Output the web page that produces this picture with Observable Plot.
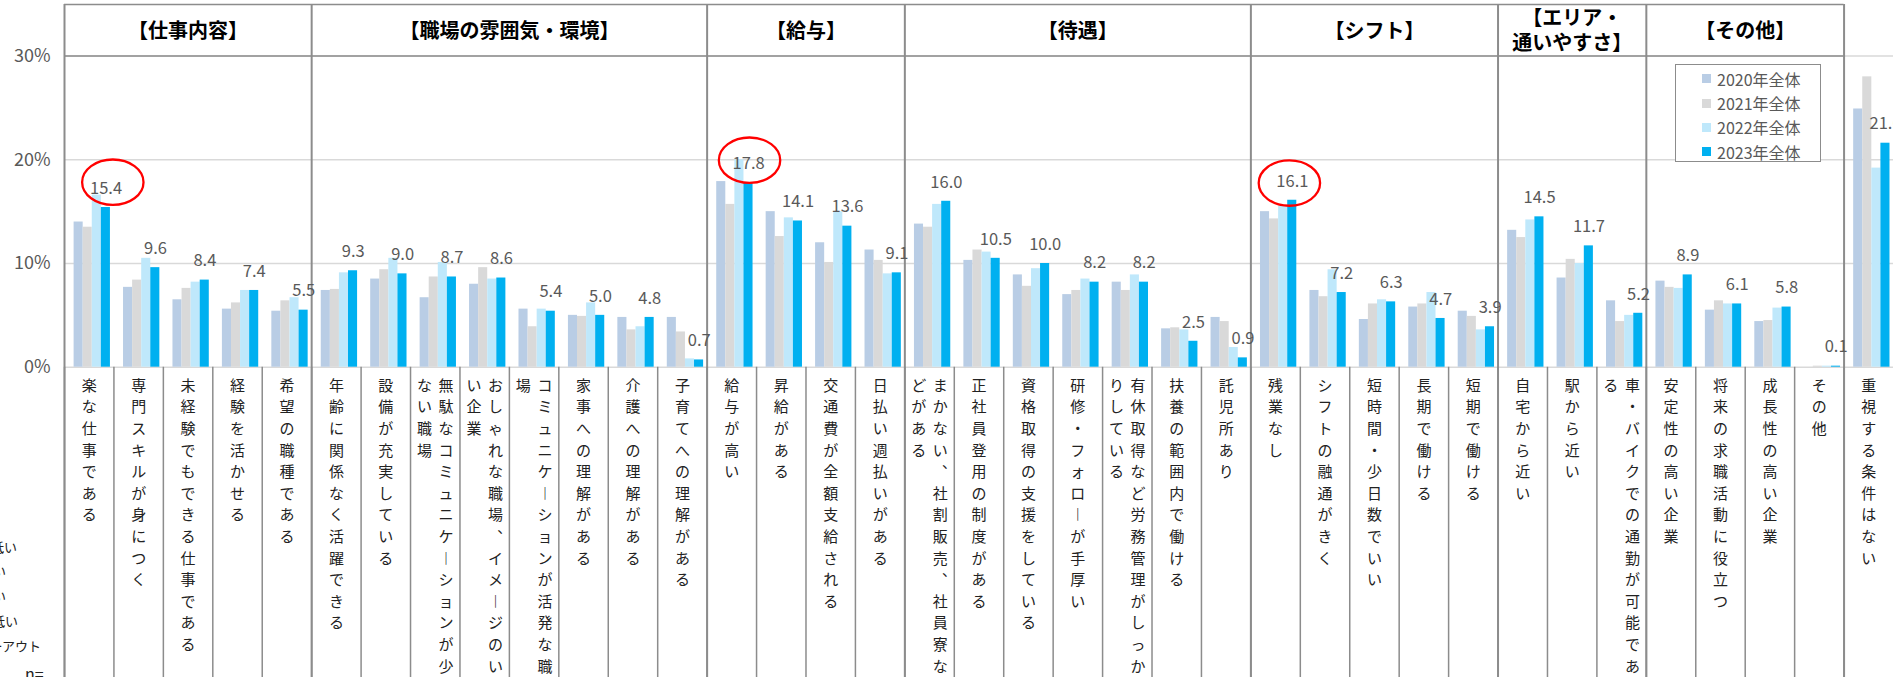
<!DOCTYPE html>
<html><head><meta charset="utf-8">
<script src="https://cdn.jsdelivr.net/npm/d3@7"></script>
<script src="https://cdn.jsdelivr.net/npm/@observablehq/plot@0.6"></script>
<style>
html,body{margin:0;padding:0;background:#fff;}
#wrap{position:relative;width:1893px;height:677px;overflow:hidden;font-family:'Noto Sans CJK JP','Noto Sans',sans-serif;}
#legend{position:absolute;left:1675px;top:64px;width:146px;height:98px;border:1.5px solid #8c8c8c;background:#fff;box-sizing:border-box;}
.li{position:absolute;left:26px;height:22px;display:flex;align-items:center;font-size:16px;color:#595959;white-space:nowrap;}
.sw{width:9px;height:9px;margin-right:6px;flex:none;}
.frag{position:absolute;white-space:nowrap;font-size:13px;color:#222;line-height:1;}
</style></head><body><div id="wrap"></div>
<script>
const categories = [
  "楽な仕事である","専門スキルが身につく","未経験でもできる仕事である","経験を活かせる","希望の職種である",
  "年齢に関係なく活躍できる","設備が充実している","無駄なコミュニケーションが少ない職場","おしゃれな職場、イメージのいい企業","コミュニケーションが活発な職場","家事への理解がある","介護への理解がある","子育てへの理解がある",
  "給与が高い","昇給がある","交通費が全額支給される","日払い週払いがある",
  "まかない、社割販売、社員寮などがある","正社員登用の制度がある","資格取得の支援をしている","研修・フォローが手厚い","有休取得など労務管理がしっかりしている","扶養の範囲内で働ける","託児所あり",
  "残業なし","シフトの融通がきく","短時間・少日数でいい","長期で働ける","短期で働ける",
  "自宅から近い","駅から近い","車・バイクでの通勤が可能である",
  "安定性の高い企業","将来の求職活動に役立つ","成長性の高い企業","その他",
  "重視する条件はない"
];
const groups = ["【仕事内容】","【職場の雰囲気・環境】","【給与】","【待遇】","【シフト】","【エリア・\n通いやすさ】","【その他】"];
const groupSizes = [5, 8, 4, 7, 5, 3, 4];
const years = ["2020年全体","2021年全体","2022年全体","2023年全体"];
const colors = ["#B9CDE5","#D9D9D9","#BFE8FB","#00B0F0"];
const v2020 = [14.0,7.7,6.5,5.6,5.4, 7.4,8.5,6.7,8.0,5.6,5.0,4.8,4.8, 17.9,15.0,12.0,11.3, 13.8,10.3,8.9,7.0,8.2,3.7,4.8, 15.0,7.4,4.6,5.8,5.4, 13.2,8.6,6.4, 8.3,5.5,4.4,0.0, 24.9];
const v2021 = [13.5,8.4,7.6,6.2,6.4, 7.5,9.4,8.7,9.6,3.9,4.9,3.6,3.4, 15.7,12.6,10.1,10.3, 13.5,11.3,7.8,7.4,7.4,3.8,4.4, 14.3,6.8,6.1,6.1,4.9, 12.5,10.4,4.4, 7.7,6.4,4.5,0.1, 28.0];
const v2022 = [16.6,10.5,8.2,7.4,6.7, 9.1,10.5,10.1,8.5,5.6,6.2,3.9,0.8, 20.0,14.4,15.0,9.0, 15.7,11.1,9.5,8.5,8.9,3.6,1.9, 15.5,9.4,6.5,7.2,3.6, 14.2,10.0,5.0, 7.6,6.1,5.7,0.1, 19.2];
const v2023 = [15.4,9.6,8.4,7.4,5.5, 9.3,9.0,8.7,8.6,5.4,5.0,4.8,0.7, 17.8,14.1,13.6,9.1, 16.0,10.5,10.0,8.2,8.2,2.5,0.9, 16.1,7.2,6.3,4.7,3.9, 14.5,11.7,5.2, 8.9,6.1,5.8,0.1, 21.6];
const highlighted = ["楽な仕事である","給与が高い","残業なし"];
const yTicks = [0, 10, 20, 30];
const sideNotes = ["低い","い","い","低い","ーアウト","n="];

// ---- layout ----
const W = 1893, H = 677, mL = 64, mR = 0, mT = 55.6, mB = 310.3, topY = 4;
const bw = (W - mL - mR) / categories.length;
const plotH = H - mT - mB;
const series = [v2020, v2021, v2022, v2023];
const data = categories.flatMap((c, i) => years.map((yr, k) => ({cat: c, year: yr, value: series[k][i]})));
const barOff = 9.6, barW = 9.08;

// group info
let start = 0;
const groupInfo = groups.map((g, j) => { const o = {name: g, i0: start, n: groupSizes[j]}; start += groupSizes[j]; return o; });
const groupStarts = [...groupInfo.map(g => categories[g.i0]), categories[start]];
const oddHeads = groupInfo.filter(g => g.n % 2 === 1).map(g => ({cat: categories[g.i0 + (g.n - 1) / 2], name: g.name}));
const evenHeads = groupInfo.filter(g => g.n % 2 === 0).map(g => ({cat: categories[g.i0 + g.n / 2 - 1], name: g.name}));

// vertical labels (max 14 chars per column)
const vert = s => Array.from(s).map(ch => ch === "ー" ? "︱" : ch === "、" ? "︑" : ch).join("\n");
const labCols = categories.map(c => { const a = Array.from(c); return {cat: c, c1: a.slice(0, 14).join(""), c2: a.slice(14).join("")}; });
const singles = labCols.filter(d => !d.c2);
const doubles = labCols.filter(d => d.c2);

const ellipse = (rx, ry) => ({draw(ctx) {
  const k = 0.5523;
  ctx.moveTo(rx, 0);
  ctx.bezierCurveTo(rx, ry * k, rx * k, ry, 0, ry);
  ctx.bezierCurveTo(-rx * k, ry, -rx, ry * k, -rx, 0);
  ctx.bezierCurveTo(-rx, -ry * k, -rx * k, -ry, 0, -ry);
  ctx.bezierCurveTo(rx * k, -ry, rx, -ry * k, rx, 0);
  ctx.closePath();
}});
const hl = highlighted.map(c => data.find(d => d.cat === c && d.year === years[3]));
const ellOffsets = [[23.6, -25.3], [17.7, -22.4], [13.8, -17.2]];

const gridC = "#d9d9d9", darkC = "#8c8c8c";
const labelFont = 15;
const headFont = 20;

const chart = Plot.plot({
  width: W, height: H,
  marginLeft: mL, marginRight: mR, marginTop: mT, marginBottom: mB,
  style: {background: "white", fontFamily: "'Noto Sans CJK JP','Noto Sans',sans-serif", overflow: "hidden"},
  x: {type: "band", domain: categories, padding: 0, round: false, axis: null},
  y: {domain: [0, 30], axis: null},
  marks: [
    Plot.ruleY([10, 20, 30], {stroke: gridC, strokeWidth: 1.5}),
    Plot.ruleY([0], {stroke: gridC, strokeWidth: 1.5}),
    ...years.map((yr, k) => Plot.barY(data.filter(d => d.year === yr), {
      x: "cat", y: "value", fill: colors[k],
      insetLeft: barOff + k * barW, insetRight: bw - barOff - (k + 1) * barW
    })),
    // header box lines
    Plot.ruleY([30], {stroke: darkC, strokeWidth: 1.5, insetRight: bw}),
    Plot.ruleY([30], {stroke: darkC, strokeWidth: 1.5, insetRight: bw, dy: -(mT - topY)}),
    // category separators below the axis
    Plot.ruleX(categories, {x: d => d, dx: -bw / 2, insetTop: plotH, insetBottom: -mB, stroke: darkC, strokeWidth: 1.5}),
    // group separators (full height)
    Plot.ruleX(groupStarts, {x: d => d, dx: -bw / 2, insetTop: -(mT - topY), insetBottom: -mB, stroke: darkC, strokeWidth: 2}),
    // y tick labels
    Plot.text(yTicks, {y: d => d, text: d => `${d}%`, frameAnchor: "left", textAnchor: "end", dx: -14, fontSize: 18, fill: "#595959"}),
    // group headers
    Plot.text(oddHeads, {x: "cat", text: "name", frameAnchor: "top", lineAnchor: "middle", dy: -26.6, fontSize: headFont, fontWeight: "bold", fill: "#000", lineHeight: 1.25}),
    Plot.text(evenHeads, {x: "cat", text: "name", frameAnchor: "top", lineAnchor: "middle", dy: -26.6, dx: bw / 2, fontSize: headFont, fontWeight: "bold", fill: "#000", lineHeight: 1.25}),
    // value labels (2023)
    Plot.text(data.filter(d => d.year === years[3]), {x: "cat", y: "value", text: d => d.value.toFixed(1), dx: 16.8, dy: -19, fontSize: 16.5, fill: "#595959"}),
    // category labels, vertical
    Plot.text(singles, {x: "cat", text: d => vert(d.c1), frameAnchor: "bottom", lineAnchor: "top", dy: 8.3, lineHeight: 1.44, fontSize: labelFont, fill: "#222"}),
    Plot.text(doubles, {x: "cat", text: d => vert(d.c1), frameAnchor: "bottom", lineAnchor: "top", dy: 8.3, dx: 10.8, lineHeight: 1.44, fontSize: labelFont, fill: "#222"}),
    Plot.text(doubles, {x: "cat", text: d => vert(d.c2), frameAnchor: "bottom", lineAnchor: "top", dy: 8.3, dx: -10.8, lineHeight: 1.44, fontSize: labelFont, fill: "#222"}),
    // highlight ellipses
    ...hl.map((d, j) => Plot.dot([d], {x: "cat", y: "value", r: 10, symbol: ellipse(30.7, 22.7), dx: ellOffsets[j][0], dy: ellOffsets[j][1], fill: "none", stroke: "#FF0000", strokeWidth: 2.3}))
  ]
});
const wrap = document.getElementById("wrap");
wrap.appendChild(chart);

// legend
const lg = document.createElement("div");
lg.id = "legend";
years.forEach((yr, k) => {
  const it = document.createElement("div");
  it.className = "li";
  it.style.top = (2.7 + k * 24.3) + "px";
  it.innerHTML = `<span class="sw" style="background:${colors[k]}"></span><span>${yr}</span>`;
  lg.appendChild(it);
});
wrap.appendChild(lg);

// cropped side notes at the left edge (partly outside the picture, as in the reference)
const noteRight = [17, 6, 6, 18, 41, null];
const noteY = [546.7, 570, 595, 620, 645, 673];
sideNotes.forEach((t, j) => {
  const s = document.createElement("div");
  s.className = "frag";
  s.textContent = t;
  if (noteRight[j] == null) { s.style.left = "25px"; s.style.fontSize = "16px"; s.style.top = (noteY[j] - 8) + "px"; }
  else { s.style.right = (W - noteRight[j]) + "px"; s.style.top = (noteY[j] - 6.5) + "px"; }
  wrap.appendChild(s);
});
</script></body></html>
